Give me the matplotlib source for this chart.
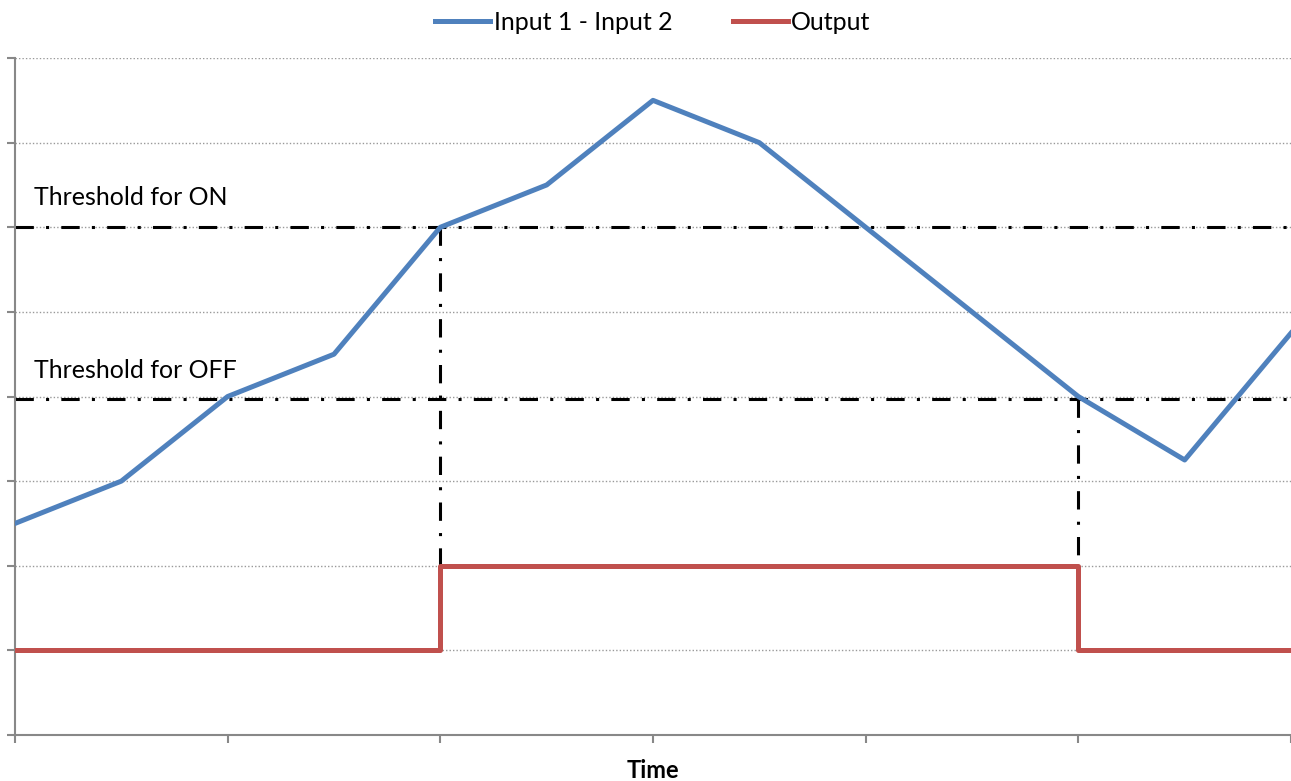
import matplotlib.pyplot as plt

plt.rcParams['font.family'] = ['Lato', 'DejaVu Sans']

# data
t = list(range(13))
diff = [2.5, 3.0, 4.0, 4.5, 6.0, 6.5, 7.5, 7.0, 6.0, 5.0, 4.0, 3.25, 4.75]
output = [1, 1, 1, 1, 2, 2, 2, 2, 2, 2, 1, 1, 1]
thr_on = 6.0
thr_off = 3.97
t_on = 4
t_off = 10

blue = '#4F81BD'
red = '#C0504D'
dd = (6, 4, 1, 4)

fig = plt.figure(figsize=(12.91, 7.81), dpi=100)
ax = fig.add_axes([0.0116, 0.0589, 0.9884, 0.8668])

# thresholds and switching markers
ax.plot([0, 12], [thr_on, thr_on], color='black', lw=2.2, dashes=dd, zorder=2)
ax.plot([0, 12], [thr_off, thr_off], color='black', lw=2.2, dashes=dd, zorder=2)
ax.plot([t_on, t_on], [thr_on, 2], color='black', lw=2.2, dashes=dd, zorder=2)
ax.plot([t_off, t_off], [thr_off, 2], color='black', lw=2.2, dashes=dd, zorder=2)

ax.plot(t, diff, color=blue, lw=3.6, label='Input 1 - Input 2', zorder=3)
ax.step(t, output, where='post', color=red, lw=3.6, label='Output', zorder=3)

ax.text(0.18, thr_on + 0.22, 'Threshold for ON', fontsize=18, ha='left', va='bottom')
ax.text(0.18, thr_off + 0.2, 'Threshold for OFF', fontsize=18, ha='left', va='bottom')

ax.set_xlim(0, 12)
ax.set_ylim(0, 8)
ax.set_xticks(range(0, 13, 2))
ax.set_yticks(range(0, 9))
ax.set_xticklabels([])
ax.set_yticklabels([])
ax.grid(axis='y', color='#999999', linestyle=(0, (1, 1.5)), lw=1)
ax.set_axisbelow(True)
for s in ['top', 'right']:
    ax.spines[s].set_visible(False)
for s in ['left', 'bottom']:
    ax.spines[s].set_color('#888888')
    ax.spines[s].set_linewidth(1.5)
ax.tick_params(colors='#888888', length=6, width=1.5, direction='out')

ax.set_xlabel('Time', fontsize=17, fontweight='bold', labelpad=8)

ax.legend(loc='center', bbox_to_anchor=(0.5, 1.053), ncol=2, frameon=False,
          fontsize=18, handlelength=2.2, handletextpad=0.15, columnspacing=2.4)

fig.savefig('out.png', dpi=100)
